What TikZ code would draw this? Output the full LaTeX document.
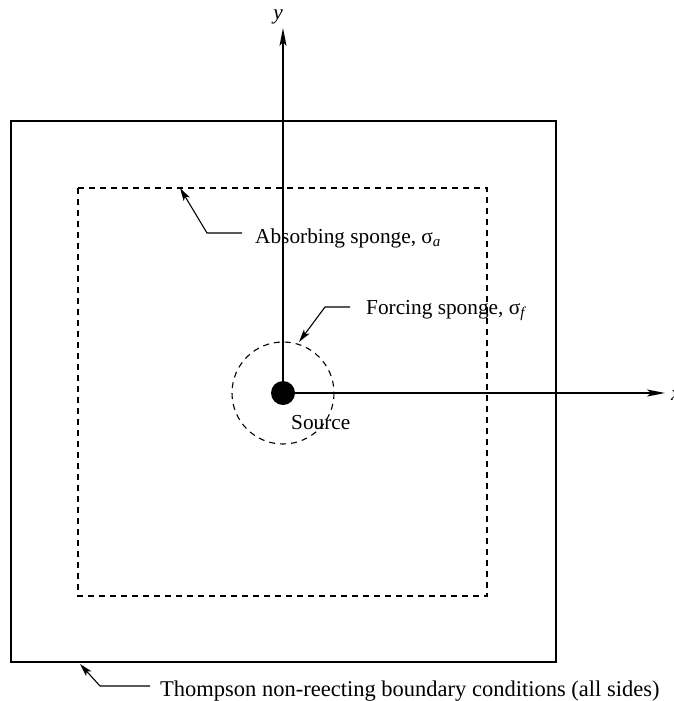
\documentclass[tikz,border=0pt]{standalone}
\usepackage{fontspec}
\setmainfont{Liberation Serif}
\usetikzlibrary{arrows.meta}
\begin{document}
\begin{tikzpicture}[x=1pt,y=-1pt,
  lbl/.style={font=\fontsize{21.3}{24}\selectfont, inner sep=0pt, anchor=base west},
  axis/.style={line width=1.3pt, -{Stealth[length=18pt,width=7pt,inset=4pt]}},
  lead/.style={line width=1.1pt, -{Stealth[length=13pt,width=7pt,inset=3pt]}},
  dsh/.style={line width=1.1pt, dash pattern=on 6pt off 5pt}]
\useasboundingbox (0,0) rectangle (674,701);
% outer boundary
\draw[line width=1.6pt] (11,121) rectangle (556,662);
% absorbing sponge
\draw[dsh] (78,188) rectangle (487,596);
% forcing sponge
\coordinate (src) at (283,393);
\draw[dsh] (src) circle[radius=51];
% axes
\coordinate (ytip) at (283,28);
\coordinate (xtip) at (665,393);
\draw[axis] (src) -- (ytip);
\draw[axis] (src) -- (xtip);
\node[font=\fontsize{21.3}{24}\selectfont\itshape, anchor=base] (ylab) at (278,20) {y};
\node[font=\fontsize{21.3}{24}\selectfont\itshape, anchor=base west, inner sep=0pt] (xlab) at (671,400) {x};
% source
\fill (src) circle[radius=12];
\node[lbl] (srclab) at (291,429) {Source};
% labels
\node[lbl] (abs) at (255,243) {Absorbing sponge, σ\textsubscript{\itshape a}};
\coordinate (absA) at (242,233);
\coordinate (absB) at (207,233);
\coordinate (absT) at (180,188);
\draw[lead] (absA) -- (absB) -- (absT);
\node[lbl] (frc) at (366,314) {Forcing sponge, σ\textsubscript{\itshape f}};
\coordinate (frcA) at (350,307);
\coordinate (frcB) at (325,307);
\coordinate (frcT) at (299,342);
\draw[lead] (frcA) -- (frcB) -- (frcT);
\node[lbl, font=\fontsize{22.5}{25}\selectfont] (thm) at (160,696) {Thompson non-reecting boundary conditions (all sides)};
\coordinate (thmA) at (150,686);
\coordinate (thmB) at (100,686);
\coordinate (thmT) at (80,664);
\draw[lead] (thmA) -- (thmB) -- (thmT);
\end{tikzpicture}
\end{document}
